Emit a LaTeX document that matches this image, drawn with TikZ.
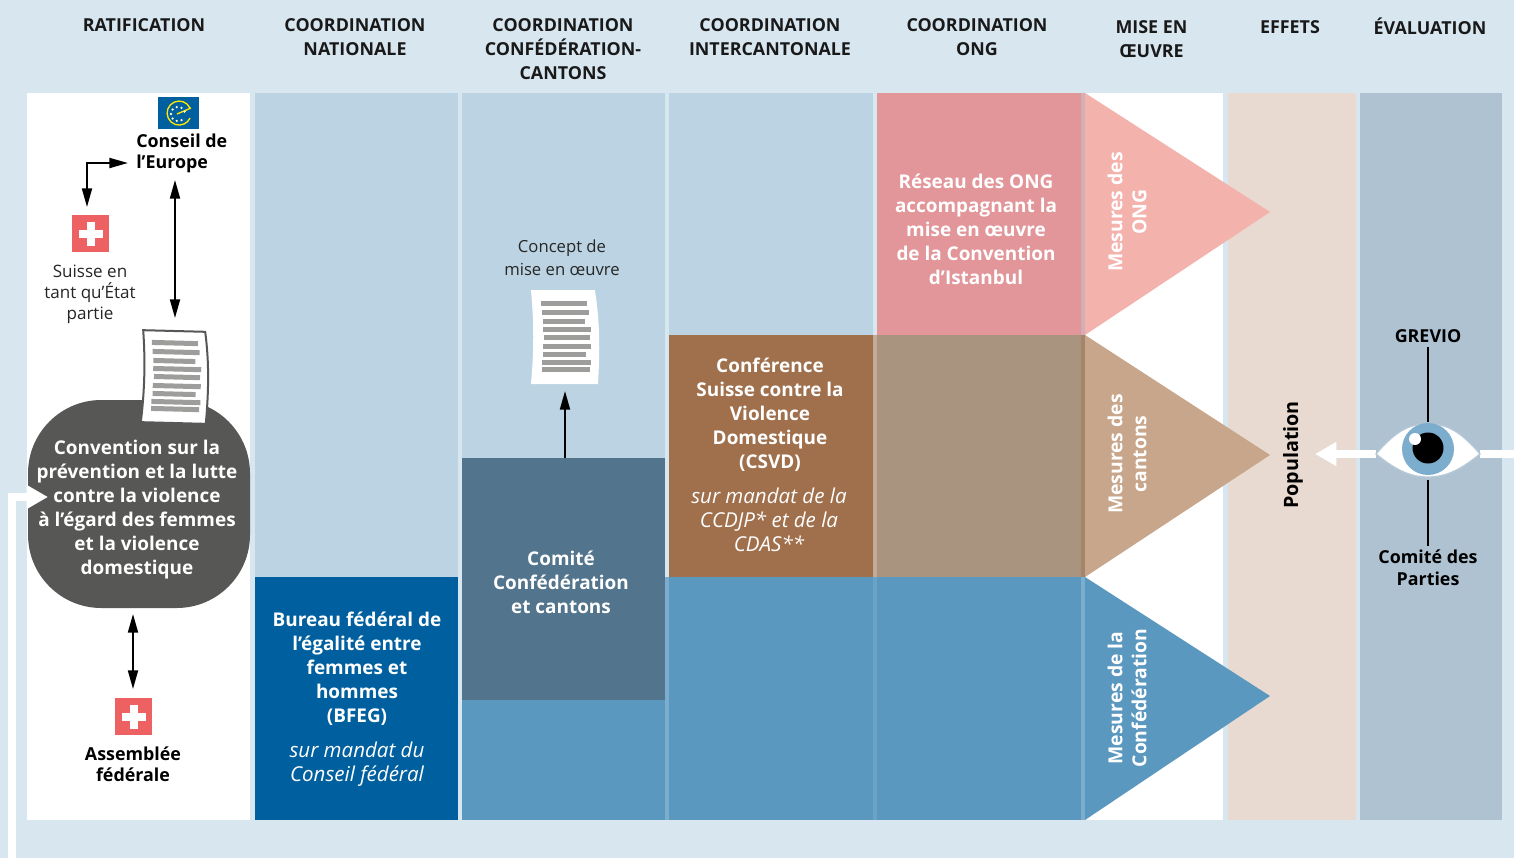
\documentclass[tikz,border=0pt]{standalone}
\usepackage{fontspec}
\setmainfont{Open Sans}
\usetikzlibrary{arrows.meta,positioning}
\definecolor{pagebg}{HTML}{D8E6F0}
\definecolor{lightblue}{HTML}{BBD3E2}
\definecolor{midblue}{HTML}{5B98BF}
\definecolor{darkblue}{HTML}{005F9E}
\definecolor{slate}{HTML}{52748C}
\definecolor{brown}{HTML}{A0704D}
\definecolor{taupe}{HTML}{A99480}
\definecolor{rose}{HTML}{E2969A}
\definecolor{salmon}{HTML}{F4B2AD}
\definecolor{sand}{HTML}{C8A68B}
\definecolor{cream}{HTML}{E8DAD0}
\definecolor{steel}{HTML}{AFC2D1}
\definecolor{charcoal}{HTML}{575756}
\definecolor{swissred}{HTML}{EE6163}
\definecolor{inkline}{HTML}{9D9D9C}
\tikzset{
	panel/.style={draw=none,rectangle,inner sep=0pt,anchor=north west},
	head/.style={align=center,text=black!90,font=\fontsize{13.4}{18}\selectfont\bfseries},
	wlabel/.style={align=center,text=white,font=\fontsize{14.2}{18}\selectfont\bfseries},
	mandat/.style={align=center,text=white,font=\fontsize{15.4}{18}\selectfont\itshape},
	blabel/.style={align=center,text=black,inner sep=0pt,font=\fontsize{13.4}{15.75}\selectfont\bfseries},
	rlabel/.style={align=center,text=black!85,inner sep=0pt,font=\fontsize{12.8}{15.75}\selectfont},
	vlabel/.style={wlabel,rotate=90,font=\fontsize{14.5}{18}\selectfont\bfseries},
	dbl/.style={{Triangle[length=14pt,width=7.5pt]}-{Triangle[length=14pt,width=7.5pt]},line width=1.5pt},
	sgl/.style={-{Triangle[length=14pt,width=7.5pt]},line width=1.5pt},
	wht/.style={-{Triangle[length=16pt,width=17pt]},line width=6pt,white},
	paper/.pic={
		\fill[white,draw=#1,line width=1.5pt] (-32,-46) -- (30,-46) .. controls (35,-15) and (35,15) .. (33,46) -- (-32,46) .. controls (-29,15) and (-29,-15) .. (-32,-46) -- cycle;
		\foreach \xa/\xb/\yy in {-23/23/-34,-22/25/-25,-21/21/-16,-21/27/-8,-20/26/0,-21/27/9,-21/22/17,-22/27/25,-22/26/32}
			\fill[inkline] (\xa,\yy-2.5) rectangle (\xb,\yy+2.5);
	},
	paper/.default=white,
	swiss/.pic={
		\node[rectangle,fill=swissred,minimum size=27.75pt,inner sep=0pt] (-box) at (0,0) {};
		\fill[white] (-12,-4) rectangle (12,4);
		\fill[white] (-4,-12) rectangle (4,12);
	}
}
\begin{document}
\begin{tikzpicture}[x=0.75pt,y=-0.75pt]
	\useasboundingbox (0,0) rectangle (1514,858);
	\fill[pagebg] (0,0) rectangle (1514,858);
	% columns
	\fill[white] (27,93) rectangle (250,820);
	\fill[lightblue] (255,93) rectangle (458,577);
	\fill[darkblue] (255,577) rectangle (458,820);
	\fill[lightblue] (462,93) rectangle (665,458);
	\fill[midblue] (462,700) rectangle (665,820);
	\fill[lightblue] (669,93) rectangle (873,335);
	\fill[brown] (669,335) rectangle (873,577);
	\fill[rose] (877,93) rectangle (1081,335);
	\fill[taupe] (877,335) rectangle (1081,577);
	\fill[midblue] (669,577) rectangle (1081,820);
	\fill[white] (1085,93) rectangle (1223,820);
	\fill[cream] (1228,93) rectangle (1356,820);
	\fill[steel] (1360,93) rectangle (1502,820);
	% strips and triangles
	\fill[midblue!80!white] (665,577) rectangle (669,820);
	\fill[brown!55!white!80!taupe] (873,335) rectangle (877,577);
	\fill[midblue!90!white] (873,577) rectangle (877,820);
	\fill[rose!60!lightblue] (1081,93) rectangle (1085,335);
	\fill[taupe!55!brown] (1081,335) rectangle (1085,577);
	\fill[midblue!80!white] (1081,577) rectangle (1085,820);
	\fill[salmon] (1085,93) -- (1270,212) -- (1085,335) -- cycle;
	\fill[sand] (1085,335) -- (1270,455) -- (1085,577) -- cycle;
	\fill[midblue] (1085,577) -- (1270,696) -- (1085,820) -- cycle;
	% headers
	\node[head] (hrat) at (144,25) {RATIFICATION};
	\node[head] (hnat) at (355,37) {COORDINATION\\NATIONALE};
	\node[head] (hcc) at (563,49) {COORDINATION\\CONFÉDÉRATION-\\CANTONS};
	\node[head] (hint) at (770,37) {COORDINATION\\INTERCANTONALE};
	\node[head] (hong) at (977,37) {COORDINATION\\ONG};
	\node[head] (hmis) at (1151.5,39) {MISE EN\\ŒUVRE};
	\node[head] (heff) at (1290,27) {EFFETS};
	\node[head] (heva) at (1430,26) {ÉVALUATION};
	% conseil de l'Europe
	\node[rectangle,fill=darkblue,minimum width=30.75pt,minimum height=24pt,inner sep=0pt] (coeflag) at (178.5,113) {};
	\draw[yellow!90!orange,line width=1pt] (190,108) arc[start angle=-25,end angle=-335,radius=12]; % the e
	\draw[yellow!90!orange,line width=1pt] (177,114) -- (191,108);
	\foreach \a in {60,100,140,180,220,260,300,340}
		\fill[white!80!yellow] (178,114)+(\a:7) circle[radius=1.3];
	\node[blabel,align=left,anchor=west] (conseil) at (136,153.5) {Conseil de\\l’Europe};
	\pic (suisse) at (90.5,233.5) {swiss};
	\node[rlabel] (etat) at (90,294) {Suisse en\\tant qu’État\\partie};
	% convention
	\node[rectangle,fill=charcoal,rounded corners=55pt,minimum width=166.5pt,minimum height=156pt,inner sep=0pt] (conv) at (139,504) {};
	\pic at (174,377) [rotate=-1.5] {paper=charcoal};
	\node[wlabel] (convtxt) at (137,510) {Convention sur la\\prévention et la lutte\\contre la violence\\à l’égard des femmes\\et la violence\\domestique};
	\node[coordinate] (coetop) at (175,180) {};
	\node[coordinate] (coebot) at (175,318) {};
	\draw[dbl] (coetop) -- (coebot);
	\node[coordinate] (elba) at (87,207) {};
	\node[coordinate] (elbb) at (128,163) {};
	\draw[dbl] (elba) |- (elbb);
	\pic (assemblee) at (133.5,716.5) {swiss};
	\node[blabel] (assemb) at (133,764) {Assemblée\\fédérale};
	\node[coordinate] (ctop) at (133,614) {};
	\node[coordinate] (cbot) at (133,689) {};
	\draw[dbl] (ctop) -- (cbot);
	% white arrow into the convention
	\node[coordinate] (wstart) at (12,858) {};
	\node[coordinate] (wtip) at (48,497) {};
	\draw[wht] (wstart) |- (wtip);
	% bureau
	\node[wlabel] (bfeg) at (357,669) {Bureau fédéral de\\l’égalité entre\\femmes et\\hommes\\(BFEG)};
	\node[mandat] (bman) at (357,764) {sur mandat du\\Conseil fédéral};
	% comite
	\node[panel,fill=slate,minimum width=152.25pt,minimum height=181.5pt] (comite) at (462,458) {};
	\node[wlabel] (comtxt) at (561,582) {Comité\\Confédération\\et cantons};
	\node[rlabel,font=\fontsize{12.5}{17.25}\selectfont] (concept) at (562,258) {Concept de\\mise en œuvre};
	\pic (cdoc) at (564,337) {paper};
	\node[coordinate] (ctip) at (565,391) {};
	\draw[sgl] (comite.north -| ctip) -- (ctip);
	% csvd
	\node[wlabel] (csvd) at (770,415) {Conférence\\Suisse contre la\\Violence\\Domestique\\(CSVD)};
	\node[mandat] (cman) at (769,520) {sur mandat de la\\CCDJP* et de la\\CDAS**};
	% reseau
	\node[wlabel] (reseau) at (976,229) {Réseau des ONG\\accompagnant la\\mise en œuvre\\de la Convention\\d’Istanbul};
	% mesures
	\node[vlabel] (mong) at (1127,212) {Mesures des\\ONG};
	\node[vlabel] (mcan) at (1127,454) {Mesures des\\cantons};
	\node[vlabel] (mcon) at (1127,698) {Mesures de la\\Confédération};
	\node[blabel,rotate=90,font=\fontsize{14.8}{18}\selectfont\bfseries] (popul) at (1293,455) {Population};
	% eye
	\node[blabel] (grevio) at (1428,336) {GREVIO};
	\node[blabel,font=\fontsize{13.4}{16.5}\selectfont\bfseries] (parties) at (1428,568) {Comité des\\Parties};
	\node[coordinate] (eyetop) at (1428,422) {};
	\node[coordinate] (eyebot) at (1428,480) {};
	\draw[line width=1.2pt,shorten <=3pt] (grevio) -- (eyetop);
	\draw[line width=1.2pt,shorten >=3pt] (eyebot) -- (parties);
	\node[coordinate] (eyel) at (1376,454) {};
	\node[coordinate] (wleft) at (1315,454) {};
	\node[coordinate] (eyer) at (1514,454) {};
	\draw[wht] (eyel) -- (wleft);
	\draw[white,line width=6pt] (eyer) -- (1480,454);
	\fill[white,draw=steel!90!white,line width=1pt] (eyel) .. controls (1398,428) and (1412,424) .. (1428,424) .. controls (1444,424) and (1458,428) .. (1480,454) .. controls (1458,472) and (1444,477) .. (1428,477) .. controls (1412,477) and (1398,472) .. cycle;
	\fill[midblue!80!white] (1428,449) circle[radius=26];
	\fill[black] (1428,448) circle[radius=15.5];
	\fill[white] (1415,439) circle[radius=6];
\end{tikzpicture}
\end{document}
